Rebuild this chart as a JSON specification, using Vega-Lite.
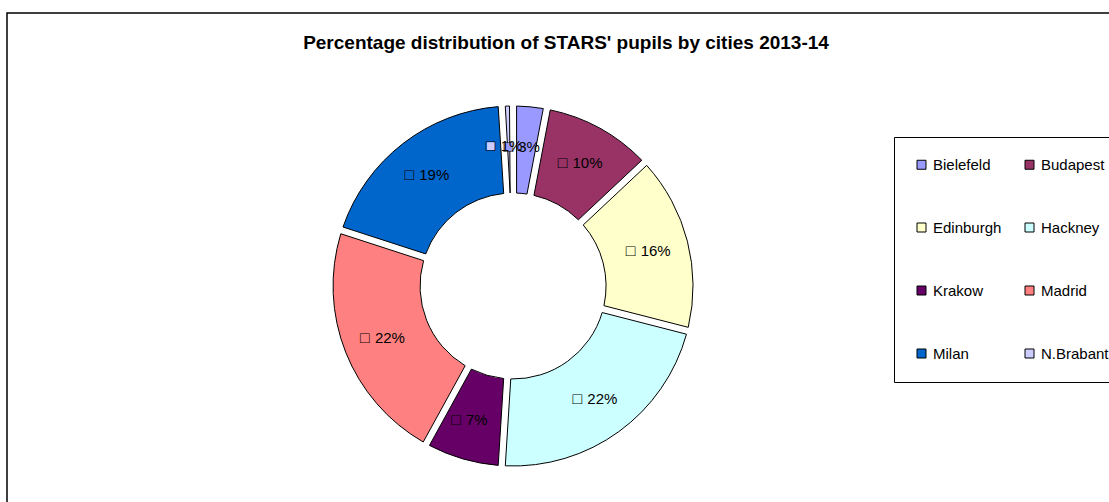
{
  "$schema": "https://vega.github.io/schema/vega-lite/v6.json",
  "width": 1110,
  "height": 500,
  "autosize": {"type": "none"},
  "padding": {"left": 7, "top": 13, "right": 0, "bottom": 0},
  "background": "white",
  "title": {
    "text": "Percentage distribution of STARS' pupils by cities 2013-14",
    "font": "Liberation Sans",
    "fontSize": 19,
    "fontWeight": "bold",
    "color": "black",
    "anchor": "middle",
    "frame": "group",
    "baseline": "middle",
    "offset": 0,
    "dx": 4,
    "dy": 49
  },
  "config": {
    "view": {"stroke": "black", "strokeWidth": 1.5},
    "font": "Liberation Sans"
  },
  "data": {
    "values": [
      {"city": "Bielefeld", "share": 0.03},
      {"city": "Budapest", "share": 0.10},
      {"city": "Edinburgh", "share": 0.16},
      {"city": "Hackney", "share": 0.22},
      {"city": "Krakow", "share": 0.07},
      {"city": "Madrid", "share": 0.22},
      {"city": "Milan", "share": 0.19},
      {"city": "N.Brabant", "share": 0.01}
    ]
  },
  "encoding": {
    "x": {"value": {"expr": "width * 0.4559"}},
    "y": {"value": {"expr": "height * 0.546"}},
    "theta": {"field": "share", "type": "quantitative", "stack": true},
    "order": {"field": "city", "type": "nominal", "sort": "ascending"}
  },
  "layer": [
    {
      "mark": {"type": "arc", "outerRadius": 180, "innerRadius": 93, "padAngle": 0.035, "stroke": "black", "strokeWidth": 1},
      "encoding": {
        "color": {
          "field": "city",
          "type": "nominal",
          "scale": {
            "domain": ["Bielefeld", "Budapest", "Edinburgh", "Hackney", "Krakow", "Madrid", "Milan", "N.Brabant"],
            "range": ["#9999FF", "#993366", "#FFFFCC", "#CCFFFF", "#660066", "#FF8080", "#0066CC", "#CCCCFF"]
          },
          "legend": {
            "title": null,
            "orient": "none",
            "legendX": 887,
            "legendY": 124,
            "columns": 2,
            "direction": "horizontal",
            "symbolType": "square",
            "symbolSize": 81,
            "symbolStrokeColor": "black",
            "symbolStrokeWidth": 1,
            "labelFont": "Liberation Sans",
            "labelFontSize": 15,
            "labelColor": "black",
            "labelOffset": 4,
            "labelLimit": 200,
            "rowPadding": 47,
            "columnPadding": 20,
            "padding": 20,
            "strokeColor": "black",
            "fillColor": "white"
          }
        }
      }
    },
    {
      "mark": {"type": "text", "radius": 140, "dx": -18, "align": "center", "baseline": "middle", "fontSize": 16, "font": "Liberation Sans", "text": "■"},
      "encoding": {
        "color": {"field": "city", "type": "nominal", "legend": null}
      }
    },
    {
      "mark": {"type": "text", "radius": 140, "dx": -18, "align": "center", "baseline": "middle", "fontSize": 16, "font": "Liberation Sans", "text": "□", "color": "black"},
      "encoding": {
        "detail": {"field": "city", "type": "nominal"}
      }
    },
    {
      "mark": {"type": "text", "radius": 140, "dx": -8, "align": "left", "baseline": "middle", "fontSize": 15, "font": "Liberation Sans", "color": "black"},
      "encoding": {
        "detail": {"field": "city", "type": "nominal"},
        "text": {"field": "share", "type": "quantitative", "format": ".0%"}
      }
    }
  ]
}
